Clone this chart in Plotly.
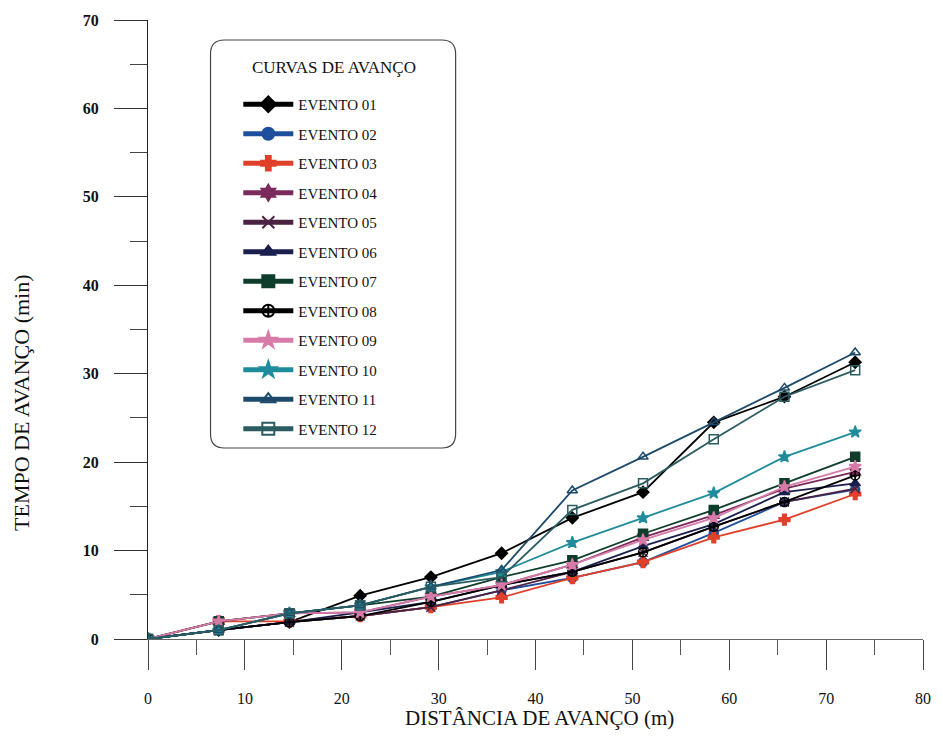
import plotly.graph_objects as go

distancia = [0, 7.3, 14.6, 21.9, 29.2, 36.5, 43.8, 51.1, 58.4, 65.7, 73.0]

eventos = ["EVENTO 01", "EVENTO 02", "EVENTO 03", "EVENTO 04", "EVENTO 05", "EVENTO 06",
           "EVENTO 07", "EVENTO 08", "EVENTO 09", "EVENTO 10", "EVENTO 11", "EVENTO 12"]

ev01 = [0, 1.0, 1.9, 4.9, 7.0, 9.7, 13.7, 16.6, 24.5, 27.4, 31.3]
ev02 = [0, 1.0, 1.9, 2.6, 3.6, 5.5, 6.9, 8.7, 12.0, 15.5, 16.9]
ev03 = [0, 2.0, 2.0, 2.6, 3.6, 4.7, 6.9, 8.7, 11.5, 13.5, 16.4]
ev04 = [0, 2.0, 2.9, 3.0, 4.8, 6.1, 8.4, 11.5, 14.0, 17.0, 18.9]
ev05 = [0, 1.0, 1.9, 2.6, 3.6, 5.5, 7.6, 9.8, 12.7, 15.5, 17.0]
ev06 = [0, 1.0, 1.9, 3.0, 4.2, 6.1, 7.6, 10.5, 13.0, 16.6, 17.6]
ev07 = [0, 2.0, 2.9, 3.8, 4.8, 7.0, 8.9, 11.9, 14.6, 17.6, 20.6]
ev08 = [0, 1.0, 1.9, 2.6, 4.2, 6.1, 7.6, 9.8, 12.7, 15.5, 18.5]
ev09 = [0, 2.0, 2.9, 3.0, 4.8, 6.1, 8.4, 11.2, 13.7, 17.2, 19.5]
ev10 = [0, 1.0, 2.9, 3.8, 5.9, 7.6, 10.9, 13.7, 16.5, 20.6, 23.4]
ev11 = [0, 1.0, 2.9, 3.8, 5.9, 7.8, 16.8, 20.6, 24.5, 28.4, 32.4]
ev12 = [0, 1.0, 2.9, 3.8, 5.9, 7.0, 14.6, 17.6, 22.6, 27.4, 30.4]

series = [ev01, ev02, ev03, ev04, ev05, ev06, ev07, ev08, ev09, ev10, ev11, ev12]
colors = ["#000000", "#1f4f9c", "#e0402a", "#7a2a5c", "#4b2244", "#1a1f4e",
          "#0f3d2b", "#000000", "#d77aa8", "#1f8c9c", "#1d4a6a", "#2b5c62"]
symbols = ["diamond", "circle", "cross", "hexagram", "x-thin-open", "triangle-up",
           "square", "circle-cross-open", "star", "star", "triangle-up-open", "square-open"]

SERIF = "Liberation Serif"

fig = go.Figure()
for name, ys, c, s in zip(eventos, series, colors, symbols):
    fig.add_trace(go.Scatter(
        x=distancia, y=ys, name=name, mode="lines+markers", legendgroup=name,
        line=dict(color=c, width=1.8),
        marker=dict(symbol=s, size=9, color=c, line=dict(color=c, width=1.5)),
    ))

# pixel geometry helpers for the rounded legend box
L, R, T, B = 148, 929, 20, 639
def px_x(p):
    return (p - L) / (R - L)
def px_y(p):
    return (B - p) / (B - T)

bx0, bx1, by0, by1, rr = 211, 458, 40, 448, 14
path = (f"M{px_x(bx0 + rr)},{px_y(by0)} L{px_x(bx1 - rr)},{px_y(by0)} "
        f"Q{px_x(bx1)},{px_y(by0)} {px_x(bx1)},{px_y(by0 + rr)} "
        f"L{px_x(bx1)},{px_y(by1 - rr)} Q{px_x(bx1)},{px_y(by1)} {px_x(bx1 - rr)},{px_y(by1)} "
        f"L{px_x(bx0 + rr)},{px_y(by1)} Q{px_x(bx0)},{px_y(by1)} {px_x(bx0)},{px_y(by1 - rr)} "
        f"L{px_x(bx0)},{px_y(by0 + rr)} Q{px_x(bx0)},{px_y(by0)} {px_x(bx0 + rr)},{px_y(by0)} Z")

fig.update_layout(
    width=943, height=738,
    margin=dict(l=L, r=943 - R, t=T, b=738 - B),
    paper_bgcolor="white", plot_bgcolor="white",
    font=dict(family=SERIF, color="#111"),
    showlegend=True,
    legend=dict(
        x=px_x(239), y=px_y(88), xanchor="left", yanchor="top",
        bgcolor="rgba(0,0,0,0)", borderwidth=0,
        font=dict(size=15, family=SERIF, color="#111"),
        tracegroupgap=7, itemsizing="constant", itemwidth=50,
    ),
    shapes=[dict(type="path", xref="paper", yref="paper", path=path,
                 line=dict(color="#444", width=1.2), fillcolor="rgba(0,0,0,0)", layer="below")],
    xaxis=dict(
        range=[0, 80], dtick=10, tick0=0, showgrid=False, zeroline=False,
        showline=True, linecolor="#666", linewidth=1.2,
        ticks="outside", ticklen=30, tickwidth=1.2, tickcolor="#444",
        minor=dict(dtick=5, ticks="outside", ticklen=15, tickwidth=1, tickcolor="#555"),
        tickfont=dict(family=SERIF, size=16, color="#111"), ticklabelstandoff=15,
    ),
    yaxis=dict(
        range=[0, 70], dtick=10, tick0=0, showgrid=False, zeroline=False,
        showline=True, linecolor="#222", linewidth=1.2,
        ticks="outside", ticklen=33, tickwidth=1.2, tickcolor="#333",
        minor=dict(dtick=5, ticks="outside", ticklen=17, tickwidth=1, tickcolor="#444"),
        tickfont=dict(family=SERIF, size=16, color="#111", weight="bold"), ticklabelstandoff=12,
    ),
    annotations=[
        dict(text="CURVAS DE AVANÇO", xref="paper", yref="paper",
             x=px_x(335), y=px_y(68), xanchor="center", yanchor="middle", showarrow=False,
             font=dict(family=SERIF, size=17, color="#111")),
        dict(text="DISTÂNCIA DE AVANÇO (m)", xref="paper", yref="paper",
             x=px_x(543), y=px_y(718), xanchor="center", yanchor="middle", showarrow=False,
             font=dict(family=SERIF, size=21, color="#111")),
        dict(text="TEMPO DE AVANÇO (min)", xref="paper", yref="paper",
             x=px_x(20), y=px_y(402), xanchor="center", yanchor="middle", showarrow=False,
             textangle=-90, font=dict(family=SERIF, size=22, color="#111")),
    ],
)

fig.write_html("out.html")
